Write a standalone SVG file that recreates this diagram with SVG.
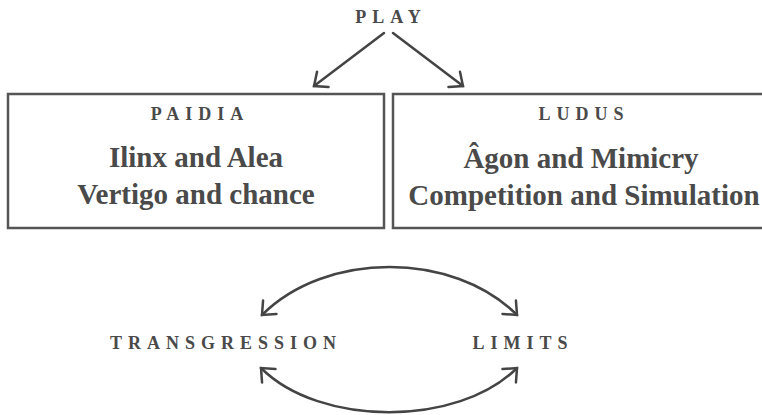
<svg xmlns="http://www.w3.org/2000/svg" width="762" height="415" viewBox="0 0 762 415">
<defs>
<style>
.lbl{font-family:"Liberation Serif","DejaVu Serif",serif;font-weight:bold;font-size:18px;letter-spacing:6px;fill:#4a4a4a;text-anchor:middle}
.big{font-family:"Liberation Serif","DejaVu Serif",serif;font-weight:bold;font-size:29px;fill:#4a4a4a;text-anchor:middle}
.box{fill:#fff;stroke:#555;stroke-width:2.5}
.con{fill:none;stroke:#444;stroke-width:2.5;stroke-linecap:round}
</style>
<marker id="ah" markerUnits="userSpaceOnUse" markerWidth="30" markerHeight="30" refX="0" refY="0" viewBox="-15 -15 30 30" orient="auto-start-reverse" overflow="visible">
<path d="M-11,-9.5 L0,0 L-11,9.5" fill="none" stroke="#444" stroke-width="2.5" stroke-linecap="round" stroke-linejoin="miter"/>
</marker>
</defs>
<rect width="762" height="415" fill="#fff"/>
<g id="play"><text class="lbl" x="391" y="23">PLAY</text></g>
<g id="paidia">
<rect class="box" x="8" y="94" width="376" height="134"/>
<text class="lbl" x="200" y="120">PAIDIA</text>
<text class="big" x="196" y="167">Ilinx and Alea</text>
<text class="big" x="196" y="204">Vertigo and chance</text>
</g>
<g id="ludus">
<rect class="box" x="393" y="94" width="376" height="134"/>
<text class="lbl" x="584" y="120">LUDUS</text>
<text class="big" x="581" y="168">Âgon and Mimicry</text>
<text class="big" x="584" y="205">Competition and Simulation</text>
</g>
<g id="transgression"><text class="lbl" x="226" y="349">TRANSGRESSION</text></g>
<g id="limits"><text class="lbl" x="523" y="349">LIMITS</text></g>
<g id="connectors">
<path class="con" d="M384,33 L314,86" marker-end="url(#ah)"/>
<path class="con" d="M393,33 L463,86" marker-end="url(#ah)"/>
<path class="con" d="M262,315 C326,251 453,251 517,315" marker-start="url(#ah)" marker-end="url(#ah)"/>
<path class="con" d="M261,368 C320,427 458,427 517,368" marker-start="url(#ah)" marker-end="url(#ah)"/>
</g>
</svg>
